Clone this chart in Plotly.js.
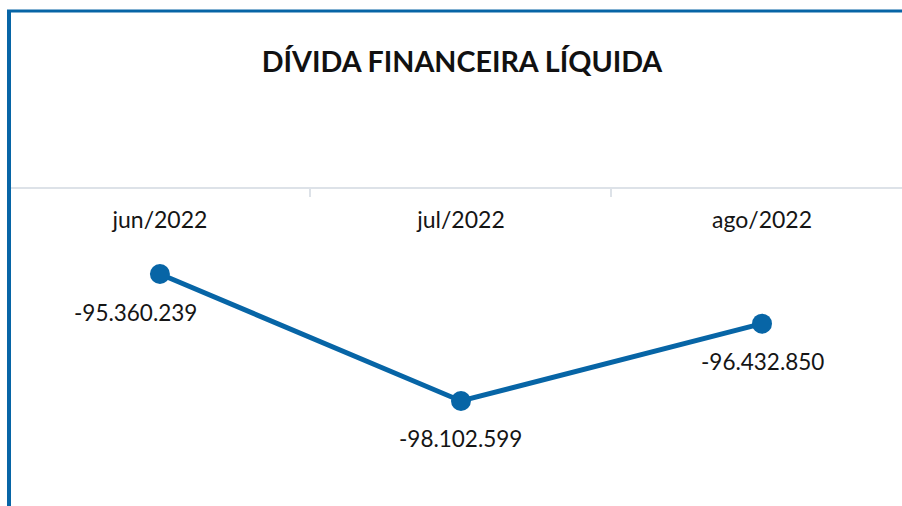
<!DOCTYPE html>
<html>
<head>
<meta charset="utf-8">
<script src="https://cdn.plot.ly/plotly-3.0.1.min.js"></script>
<style>
  html, body { margin: 0; padding: 0; background: #ffffff; }
  #chart { width: 902px; height: 506px; }
</style>
</head>
<body>
<div id="chart"></div>
<script>
// ---- data ----
const months = ['jun/2022', 'jul/2022', 'ago/2022'];
const divida = [-95360239, -98102599, -96432850];
const chartTitle = 'DÍVIDA FINANCEIRA LÍQUIDA';

// ---- helpers ----
function fmtBR(v) {
  const s = Math.abs(Math.round(v)).toString().replace(/\B(?=(\d{3})+(?!\d))/g, '.');
  return (v < 0 ? '-' : '') + s;
}

const blue = '#0765A6';
const fontFam = 'Lato, "Open Sans", sans-serif';
const labelShiftX = [-24, 0, 0];

const trace = {
  type: 'scatter',
  mode: 'lines+markers',
  x: months,
  y: divida,
  line: { color: blue, width: 5 },
  marker: { color: blue, size: 20 },
  hoverinfo: 'skip'
};

const annotations = months.map((m, i) => ({
  x: m, y: divida[i], xref: 'x', yref: 'y',
  text: fmtBR(divida[i]),
  showarrow: false,
  xanchor: 'center', yanchor: 'middle',
  xshift: labelShiftX[i], yshift: -38,
  font: { family: fontFam, size: 22.5, color: '#151515' }
}));

const layout = {
  width: 902, height: 506,
  margin: { l: 10, r: 0, t: 189, b: 0, pad: 0 },
  paper_bgcolor: '#ffffff',
  plot_bgcolor: '#ffffff',
  showlegend: false,
  title: {
    text: '<b>' + chartTitle + '</b>',
    font: { family: fontFam, size: 28.7, color: '#111111' },
    x: 462 / 902, xref: 'container', xanchor: 'center',
    y: 1 - 62 / 506, yref: 'container', yanchor: 'middle'
  },
  xaxis: {
    type: 'category',
    side: 'top',
    range: [-0.498, 2.465],
    showline: true, linecolor: '#dde2e8', linewidth: 2,
    ticks: 'inside', tickson: 'boundaries', ticklen: 8, tickwidth: 2, tickcolor: '#dde2e8',
    ticklabelposition: 'inside',
    ticklabelstandoff: 17,
    showgrid: false, zeroline: false,
    tickfont: { family: fontFam, size: 23, color: '#151515' },
    fixedrange: true
  },
  yaxis: {
    visible: false,
    range: [-100371000, -93524000],
    showgrid: false, zeroline: false,
    fixedrange: true
  },
  annotations: annotations,
  shapes: [
    { type: 'line', xref: 'paper', yref: 'paper',
      x0: -1 / 892, x1: -1 / 892, y0: -0.01, y1: 1 + (189 - 10) / 317,
      line: { color: blue, width: 4 } },
    { type: 'line', xref: 'paper', yref: 'paper',
      x0: -3 / 892, x1: 1.01, y0: 1 + (189 - 11) / 317, y1: 1 + (189 - 11) / 317,
      line: { color: blue, width: 3 } }
  ]
};

Plotly.newPlot('chart', [trace], layout, { displayModeBar: false, staticPlot: true });
</script>
</body>
</html>
